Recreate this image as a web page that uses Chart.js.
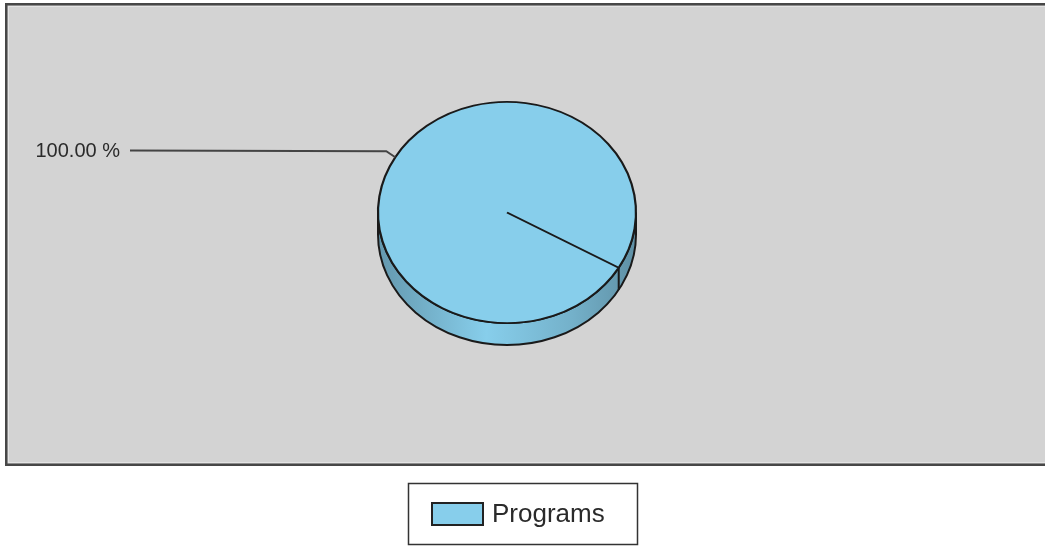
<!DOCTYPE html>
<html>
<head>
<meta charset="utf-8">
<style>
  html, body { margin: 0; padding: 0; background: #ffffff; overflow: hidden; }
  #wrap { position: absolute; left: 0; top: 0; width: 1045px; height: 546px; }
  canvas { display: block; }
</style>
<script src="https://cdn.jsdelivr.net/npm/chart.js@4.4.1/dist/chart.umd.min.js"></script>
</head>
<body>
<div id="wrap"><canvas id="chart" width="1045" height="546"></canvas></div>
<script>
// Chart data
const categories = ['Programs'];
const values = [100];
const sliceColors = ['#87ceeb'];

// Look of the tilted pie
const TILT = 0.857;          // vertical squash of the pie face
const DEPTH = 22;            // thickness of the pie edge in px
const FONT = '"Liberation Sans", Arial, Helvetica, sans-serif';

const total = values.reduce((a, b) => a + b, 0);
const percentText = values.map(v => (v / total * 100).toFixed(2) + ' %');

function shade(hex, f) {
  const n = parseInt(hex.slice(1), 16);
  const c = [(n >> 16) & 255, (n >> 8) & 255, n & 255].map(v => Math.max(0, Math.min(255, Math.round(v * f))));
  return 'rgb(' + c.join(',') + ')';
}

const pie3d = {
  id: 'pie3d',
  beforeDraw(chart) {
    const ctx = chart.ctx;
    ctx.save();
    // grey plotting panel with its frame
    ctx.fillStyle = '#d3d3d3';
    ctx.fillRect(6, 4, 1045, 461);
    ctx.strokeStyle = '#474747';
    ctx.lineWidth = 2.5;
    ctx.strokeRect(6.25, 4.25, 1045, 460.5);
    ctx.strokeStyle = '#e4e4e4';
    ctx.lineWidth = 1;
    ctx.strokeRect(8.5, 6.5, 1045, 456);
    ctx.restore();
  },
  beforeDatasetsDraw(chart) {
    const ctx = chart.ctx;
    const arcs = chart.getDatasetMeta(0).data;
    const a0 = arcs[0];
    const x = a0.x, y = a0.y, r = a0.outerRadius, ry = r * TILT;

    // edge of the pie (front half, extruded downwards)
    ctx.save();
    ctx.beginPath();
    ctx.ellipse(x, y, r, ry, 0, 0, Math.PI, false);
    ctx.lineTo(x - r, y + DEPTH);
    ctx.ellipse(x, y + DEPTH, r, ry, 0, Math.PI, 0, true);
    ctx.closePath();
    const base = sliceColors[0];
    const g = ctx.createLinearGradient(x - r, 0, x + r, 0);
    g.addColorStop(0, shade(base, 0.74));
    g.addColorStop(0.42, shade(base, 1.0));
    g.addColorStop(0.75, shade(base, 0.86));
    g.addColorStop(1, shade(base, 0.7));
    ctx.fillStyle = g;
    ctx.fill();
    ctx.strokeStyle = '#1a1a1a';
    ctx.lineWidth = 2;
    ctx.stroke();

    // slice boundaries visible on the front edge
    arcs.forEach(a => {
      const ang = a.startAngle;
      if (Math.sin(ang) > 0) {
        const px = x + r * Math.cos(ang), py = y + ry * Math.sin(ang);
        ctx.beginPath();
        ctx.moveTo(px, py);
        ctx.lineTo(px, py + DEPTH);
        ctx.stroke();
      }
    });
    ctx.restore();

    // squash the pie face into an ellipse
    ctx.save();
    ctx.translate(x, y);
    ctx.scale(1, TILT);
    ctx.translate(-x, -y);
  },
  afterDatasetsDraw(chart) {
    const ctx = chart.ctx;
    ctx.restore();

    const arcs = chart.getDatasetMeta(0).data;
    ctx.save();
    arcs.forEach((a, i) => {
      const x = a.x, y = a.y, r = a.outerRadius, ry = r * TILT;
      const mid = (a.startAngle + a.endAngle) / 2;
      const ex = x + r * Math.cos(mid), ey = y + ry * Math.sin(mid);
      const bx = ex - 9, by = ey - 6;
      const tx = 130;
      // leader line
      ctx.strokeStyle = '#444444';
      ctx.lineWidth = 2;
      ctx.beginPath();
      ctx.moveTo(ex, ey);
      ctx.lineTo(bx, by);
      ctx.lineTo(tx, by - 0.8);
      ctx.stroke();
      // value label
      ctx.fillStyle = '#2a2a2a';
      ctx.font = '20px ' + FONT;
      ctx.textAlign = 'right';
      ctx.textBaseline = 'alphabetic';
      ctx.fillText(percentText[i], tx - 10, by + 6);
    });

    // legend
    ctx.strokeStyle = '#333333';
    ctx.lineWidth = 1.5;
    ctx.fillStyle = '#ffffff';
    ctx.fillRect(408.5, 483.5, 229, 61);
    ctx.strokeRect(408.5, 483.5, 229, 61);
    categories.forEach((cat, i) => {
      const sy = 503 + i * 34;
      ctx.fillStyle = sliceColors[i];
      ctx.fillRect(432, sy, 51, 22);
      ctx.strokeStyle = '#222222';
      ctx.lineWidth = 2;
      ctx.strokeRect(432, sy, 51, 22);
      ctx.fillStyle = '#2a2a2a';
      ctx.font = '26px ' + FONT;
      ctx.textAlign = 'left';
      ctx.textBaseline = 'alphabetic';
      ctx.fillText(cat, 492, sy + 19);
    });
    ctx.restore();
  }
};

new Chart(document.getElementById('chart'), {
  type: 'pie',
  data: {
    labels: categories,
    datasets: [{
      data: values,
      backgroundColor: sliceColors,
      borderColor: '#1a1a1a',
      borderWidth: 2.2,
      radius: 129,
      clip: false
    }]
  },
  options: {
    responsive: false,
    animation: false,
    events: [],
    rotation: 120,
    layout: { padding: { left: 0, right: 31, top: 0, bottom: 121 } },
    plugins: {
      legend: { display: false },
      tooltip: { enabled: false },
      title: { display: false }
    }
  },
  plugins: [pie3d]
});
</script>
</body>
</html>
